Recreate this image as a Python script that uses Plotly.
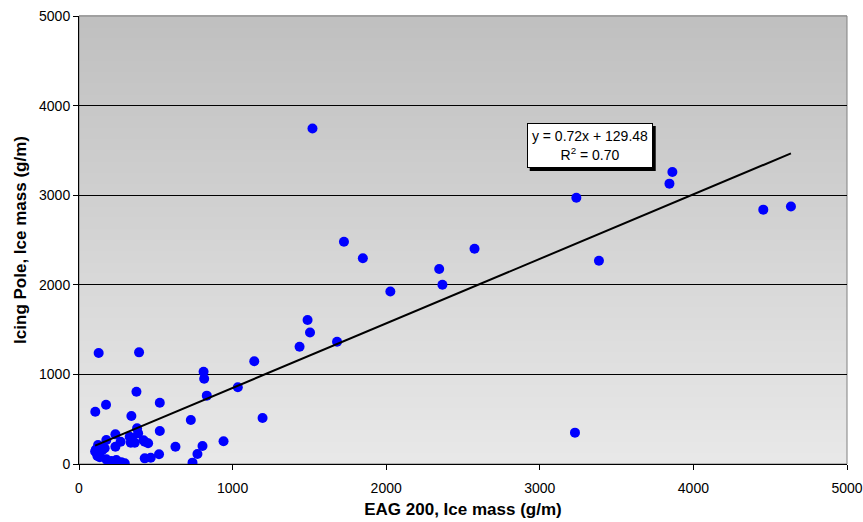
"""
Icing pole vs EAG 200 ice mass scatter with linear trend

"""
import plotly.graph_objects as go

# EAG 200 ice mass (g/m)
eag_mass = [1520, 1725, 1848, 2027, 2345, 2366, 2575, 3238, 3385, 3863,
            3844, 4455, 4635, 3229, 1488, 1504, 1436, 1680, 1141, 1034,
            1195, 811, 815, 832, 941, 804, 771, 739, 728, 628,
            526, 526, 521, 467, 428, 450, 428, 391, 374, 378,
            385, 363, 337, 330, 341, 298, 276, 271, 243, 237,
            237, 211, 178, 178, 176, 167, 128, 106, 124, 110,
            115, 120, 135, 150, 105, 340, 420]
# Icing pole ice mass (g/m)
pole_mass = [3745, 2480, 2297, 1925, 2176, 2001, 2403, 2972, 2269, 3259,
             3129, 2839, 2873, 350, 1607, 1468, 1309, 1365, 1146, 856,
             513, 1030, 952, 763, 253, 201, 112, 15, 491, 193,
             684, 368, 108, 70, 63, 231, 249, 1246, 807, 398,
             342, 238, 238, 305, 536, 8, 19, 249, 45, 331,
             193, 33, 52, 268, 662, 175, 1239, 584, 212, 160,
             120, 90, 75, 150, 140, 290, 265]

# trend line as printed on the chart
slope = 0.72
intercept = 129.48
r_squared = 0.70

FONT = 'Liberation Sans, Arial, sans-serif'

fit_x = [min(eag_mass), max(eag_mass)]
fit_y = [slope*v + intercept for v in fit_x]

fig = go.Figure()
fig.add_trace(go.Scatter(x=eag_mass, y=pole_mass, mode='markers',
                         marker=dict(color='#0000ff', size=10, line=dict(width=0)),
                         showlegend=False))
fig.add_trace(go.Scatter(x=fit_x, y=fit_y, mode='lines',
                         line=dict(color='black', width=2), showlegend=False))

# vertical grey gradient for the plot area
nbands = 40
top, bottom = 192, 232
for i in range(nbands):
    g = round(bottom + (top - bottom) * i / (nbands - 1))
    fig.add_shape(type='rect', xref='x domain', yref='y domain',
                  x0=0, x1=1, y0=i/nbands, y1=(i+1)/nbands + 0.002,
                  fillcolor='rgb({0},{0},{0})'.format(g), line=dict(width=0),
                  layer='below')
# plot area frame (top and right)
fig.add_shape(type='rect', xref='x domain', yref='y domain', x0=0, x1=1, y0=0, y1=1,
              line=dict(color='#808080', width=1), fillcolor='rgba(0,0,0,0)', layer='below')

# equation box with a drop shadow (shadow offset ~3px)
box_x, box_y = 3325, 3555
px_x = 5000 / 768.0
px_y = 5000 / 448.0
fig.add_shape(type='rect', xref='x', yref='y',
              x0=box_x - 60*px_x, x1=box_x + 66*px_x,
              y0=box_y - 25.5*px_y, y1=box_y + 19.5*px_y,
              fillcolor='black', line=dict(width=0), layer='above')
eq_text = 'y = {:.2f}x + {:.2f}<br>R<sup>2</sup> = {:.2f}'.format(slope, intercept, r_squared)
fig.add_annotation(x=box_x, y=box_y, text=eq_text, showarrow=False, xanchor='center', yanchor='middle',
                   font=dict(family=FONT, size=14, color='black'), bgcolor='white',
                   bordercolor='black', borderwidth=1, borderpad=3, width=118, height=37,
                   align='center', valign='middle')

fig.update_layout(
    width=863, height=522,
    margin=dict(l=79, r=16, t=16, b=58),
    paper_bgcolor='white', plot_bgcolor='rgba(0,0,0,0)',
    font=dict(family=FONT, size=14, color='black'),
)
fig.update_xaxes(range=[0, 5000], dtick=1000, showgrid=False, zeroline=False,
                 showline=True, linecolor='black', linewidth=1,
                 ticks='outside', ticklen=5, tickcolor='black', automargin=False,
                 ticklabelstandoff=6, ticklabeloverflow='allow',
                 title=dict(text='<b>EAG 200, Ice mass (g/m)</b>', font=dict(size=17), standoff=8))
fig.update_yaxes(range=[0, 5000], dtick=1000, showgrid=True, gridcolor='black', gridwidth=1,
                 zeroline=False, showline=True, linecolor='black', linewidth=1,
                 ticks='outside', ticklen=5, tickcolor='black', automargin=False,
                 ticklabeloverflow='allow',
                 title=dict(text='<b>Icing Pole, Ice mass (g/m)</b>', font=dict(size=17), standoff=8))

fig.write_html("out.html", config={'displayModeBar': False},
               post_script="document.body.style.margin='0';")
